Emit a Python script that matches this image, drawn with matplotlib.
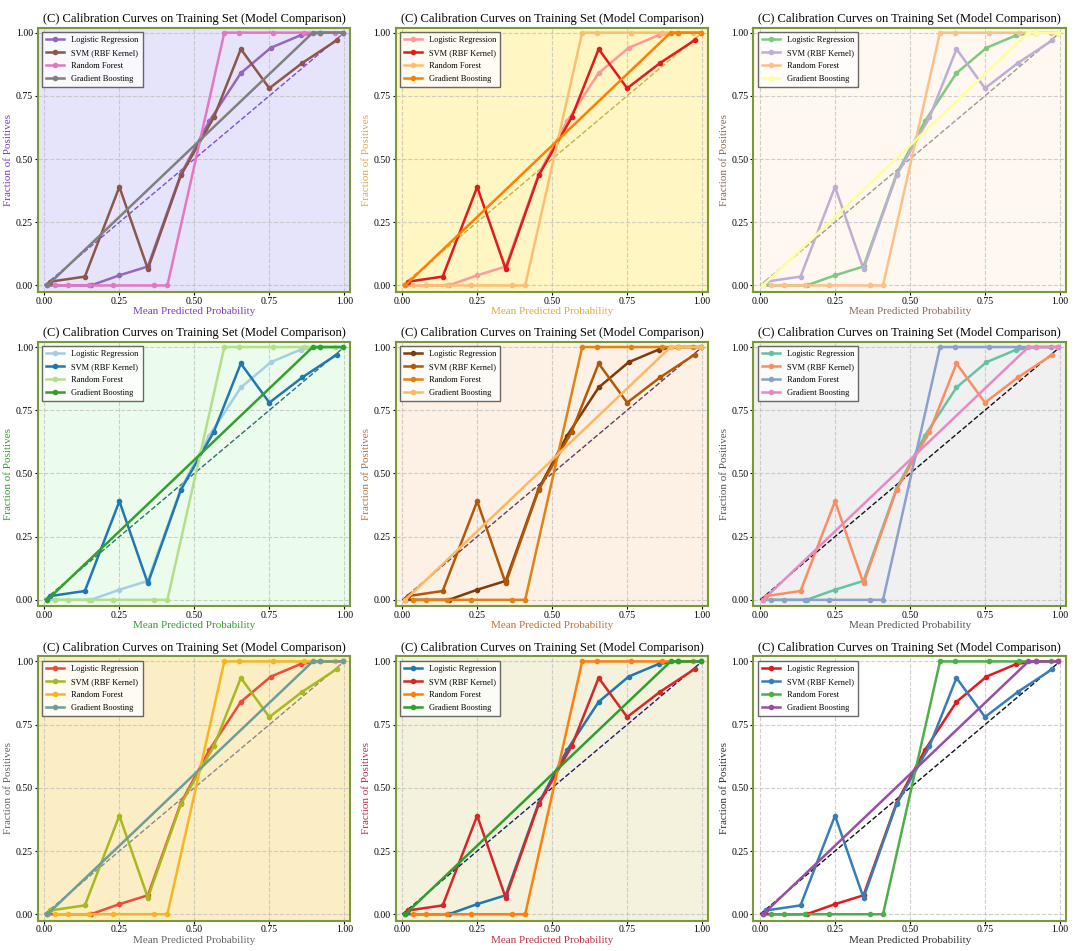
import numpy as np
import matplotlib
matplotlib.use('Agg')
import matplotlib.pyplot as plt

"""
Calibration curve data (same curves in every panel)
"""
models = ['Logistic Regression', 'SVM (RBF Kernel)', 'Random Forest', 'Gradient Boosting']

lr_x = [0.01, 0.155, 0.25, 0.345, 0.455, 0.55, 0.655, 0.755, 0.855, 0.92, 0.995]
lr_y = [0.0, 0.0, 0.04, 0.075, 0.44, 0.65, 0.84, 0.94, 0.99, 1.0, 1.0]

svm_x = [0.02, 0.135, 0.25, 0.345, 0.455, 0.565, 0.655, 0.75, 0.86, 0.975]
svm_y = [0.015, 0.035, 0.39, 0.065, 0.435, 0.665, 0.935, 0.78, 0.88, 0.97]

rf_x = [0.035, 0.08, 0.15, 0.23, 0.365, 0.41, 0.6, 0.65, 0.762, 0.865, 0.97]
rf_y = [0.0, 0.0, 0.0, 0.0, 0.0, 0.0, 1.0, 1.0, 1.0, 1.0, 1.0]

gb_x = [0.01, 0.895, 0.92, 0.995]
gb_y = [0.0, 1.0, 1.0, 1.0]

curves = [(lr_x, lr_y), (svm_x, svm_y), (rf_x, rf_y), (gb_x, gb_y)]

# Per-panel styling: line colours, background, label colour, diagonal colour
palettes = [
    ['#9467bd', '#8c564b', '#e377c2', '#7f7f7f'],
    ['#fb9a99', '#e31a1c', '#fdbf6f', '#ff7f00'],
    ['#7fc97f', '#beaed4', '#fdc086', '#ffff99'],
    ['#a6cee3', '#1f78b4', '#b2df8a', '#33a02c'],
    ['#7f3b08', '#b35806', '#e08214', '#fdb863'],
    ['#66c2a5', '#fc8d62', '#8da0cb', '#e78ac3'],
    ['#ee4b3a', '#a8b820', '#f7b521', '#6b9e9a'],
    ['#1f77b4', '#d62728', '#ff7f0e', '#2ca02c'],
    ['#e41a1c', '#377eb8', '#4daf4a', '#984ea3'],
]
backgrounds = ['#e6e4fa', '#fff6c4', '#fff8f0', '#ecfcec', '#fcf1e4',
               '#f0f0f0', '#fbeec4', '#f4f2dc', '#ffffff']
label_colors = ['#7a3fc0', '#e0a94a', '#8a6a5a', '#3a9a3a', '#b8733a',
                '#555555', '#666666', '#c0304a', '#333333']
diag_colors = ['#7b4fd0', '#c8b040', '#999999', '#2f6f6f', '#6b3a5a',
               '#111111', '#888888', '#1a1a6e', '#111111']

plt.rcParams['font.family'] = ['Liberation Serif', 'DejaVu Serif']

fig, axes = plt.subplots(3, 3, figsize=(10.8, 9.51), dpi=100)
plt.subplots_adjust(left=0.035, right=0.987, top=0.971, bottom=0.032,
                    wspace=0.145, hspace=0.19)

for idx, ax in enumerate(axes.flat):
    ax.set_facecolor(backgrounds[idx])
    ax.plot([0, 1], [0, 1], linestyle='--', color=diag_colors[idx], linewidth=1.0)
    for (cx, cy), name, col in zip(curves, models, palettes[idx]):
        ax.plot(cx, cy, marker='o', markersize=3, linewidth=1.8, color=col, label=name)

    ax.set_xlim(-0.022, 1.02)
    ax.set_ylim(-0.025, 1.02)
    ticks = [0.0, 0.25, 0.5, 0.75, 1.0]
    ax.set_xticks(ticks)
    ax.set_yticks(ticks)
    ax.set_xticklabels(['%.2f' % t for t in ticks])
    ax.set_yticklabels(['%.2f' % t for t in ticks])
    ax.tick_params(labelsize=7, length=2, pad=1.5)
    ax.grid(True, linestyle='--', color='#bbbbbb', linewidth=0.8, alpha=0.7)

    for sp in ax.spines.values():
        sp.set_color('#7a9a3a')
        sp.set_linewidth(1.5)

    ax.set_title('(C) Calibration Curves on Training Set (Model Comparison)', fontsize=9, pad=4)
    ax.set_xlabel('Mean Predicted Probability', fontsize=8, color=label_colors[idx], labelpad=1)
    ax.set_ylabel('Fraction of Positives', fontsize=8, color=label_colors[idx], labelpad=2)

    leg = ax.legend(loc='upper left', fontsize=6, frameon=True, fancybox=False,
                    handlelength=2.2, borderpad=0.5, labelspacing=0.6)
    leg.get_frame().set_edgecolor('#444444')
    leg.get_frame().set_facecolor('white')
    leg.get_frame().set_alpha(0.8)

plt.savefig('out.png', dpi=100)
